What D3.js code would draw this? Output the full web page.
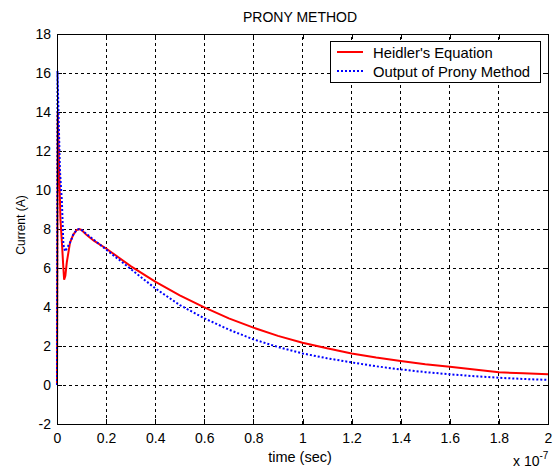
<!DOCTYPE html>
<html>
<head>
<meta charset="utf-8">
<script src="https://cdn.jsdelivr.net/npm/d3@7"></script>
<style>
  body { margin: 0; background: #fff; }
  text { font-family: "Liberation Sans", Arial, sans-serif; fill: #000; }
</style>
</head>
<body>
<div id="chart"></div>
<script>
// time values are in units of 1e-7 s
const heidlerTime = [0, 0.003, 0.008, 0.014, 0.02, 0.025, 0.029, 0.034, 0.04, 0.053, 0.066, 0.08, 0.09, 0.1, 0.12, 0.15, 0.2, 0.25, 0.3, 0.4, 0.5, 0.6, 0.7, 0.8, 0.9, 1.0, 1.1, 1.2, 1.3, 1.4, 1.5, 1.6, 1.7, 1.8, 1.9, 2.0];
const heidlerCurrent = [0, 14.0, 11.5, 8.5, 7.3, 6.2, 5.4, 5.6, 6.3, 7.3, 7.7, 7.95, 8.0, 7.95, 7.7, 7.4, 7.0, 6.55, 6.1, 5.3, 4.6, 3.98, 3.42, 2.94, 2.52, 2.17, 1.88, 1.62, 1.41, 1.23, 1.07, 0.94, 0.79, 0.65, 0.6, 0.55];

const pronyTime = [0, 0.002, 0.006, 0.012, 0.02, 0.026, 0.033, 0.04, 0.053, 0.066, 0.08, 0.09, 0.1, 0.12, 0.15, 0.2, 0.25, 0.3, 0.4, 0.5, 0.6, 0.7, 0.8, 0.9, 1.0, 1.1, 1.2, 1.3, 1.4, 1.5, 1.6, 1.7, 1.8, 1.9, 2.0];
const pronyCurrent = [0, 16.1, 14.0, 11.0, 9.4, 7.2, 6.85, 7.0, 7.3, 7.7, 7.95, 8.0, 7.95, 7.75, 7.45, 6.95, 6.45, 5.95, 4.96, 4.1, 3.42, 2.84, 2.34, 1.95, 1.62, 1.37, 1.16, 0.96, 0.8, 0.66, 0.55, 0.45, 0.37, 0.31, 0.26];

const xTicks = [0, 0.2, 0.4, 0.6, 0.8, 1, 1.2, 1.4, 1.6, 1.8, 2];
const yTicks = [-2, 0, 2, 4, 6, 8, 10, 12, 14, 16, 18];
const seriesNames = ["Heidler's Equation", "Output of Prony Method"];

const width = 553, height = 471;
const marginLeft = 57, marginRight = 5, marginTop = 34, marginBottom = 47;

const svg = d3.select("#chart").append("svg")
    .attr("width", width)
    .attr("height", height);

const x = d3.scaleLinear().domain([0, 2]).range([marginLeft, width - marginRight]);
const y = d3.scaleLinear().domain([-2, 18]).range([height - marginBottom, marginTop]);

// grid
const grid = svg.append("g");
grid.selectAll(".gx")
    .data(xTicks.slice(1, -1))
    .enter().append("line")
    .attr("x1", d => x(d)).attr("x2", d => x(d))
    .attr("y1", y(-2)).attr("y2", y(18))
    .attr("stroke", "#000").attr("stroke-width", 1)
    .attr("stroke-dasharray", "3,3")
    .attr("shape-rendering", "crispEdges");
grid.selectAll(".gy")
    .data(yTicks.slice(1, -1))
    .enter().append("line")
    .attr("x1", x(0)).attr("x2", x(2))
    .attr("y1", d => y(d)).attr("y2", d => y(d))
    .attr("stroke", "#000").attr("stroke-width", 1)
    .attr("stroke-dasharray", "3,3")
    .attr("shape-rendering", "crispEdges");

// axes with inward ticks
const fmt = d => String(d);
const xAxis = d3.axisBottom(x).tickValues(xTicks).tickSizeInner(-5).tickSizeOuter(0).tickPadding(9).tickFormat(fmt);
const yAxis = d3.axisLeft(y).tickValues(yTicks).tickSizeInner(-5).tickSizeOuter(0).tickPadding(6).tickFormat(fmt);

svg.append("g")
    .attr("transform", `translate(0,${height - marginBottom})`)
    .call(xAxis);
svg.append("g")
    .attr("transform", `translate(${marginLeft},0)`)
    .call(yAxis);
svg.append("g")
    .attr("transform", `translate(0,${marginTop})`)
    .call(d3.axisTop(x).tickValues(xTicks).tickSizeInner(-5).tickSizeOuter(0).tickFormat(""));
svg.append("g")
    .attr("transform", `translate(${width - marginRight},0)`)
    .call(d3.axisRight(y).tickValues(yTicks).tickSizeInner(-5).tickSizeOuter(0).tickFormat(""));

svg.selectAll(".domain").remove();
svg.selectAll(".tick line").attr("stroke", "#000").attr("shape-rendering", "crispEdges");
svg.selectAll(".tick text").style("font-size", "14px").style("font-family", "Liberation Sans, Arial, sans-serif").attr("fill", "#000");

// lines
const line = d3.line().x(d => x(d[0])).y(d => y(d[1]));
const heidler = heidlerTime.map((t, i) => [t, heidlerCurrent[i]]);
const prony = pronyTime.map((t, i) => [t, pronyCurrent[i]]);

svg.append("path")
    .datum(heidler)
    .attr("d", line)
    .attr("fill", "none")
    .attr("stroke", "#ff0000")
    .attr("stroke-width", 2);

svg.append("path")
    .datum(prony)
    .attr("d", line)
    .attr("fill", "none")
    .attr("stroke", "#0000ff")
    .attr("stroke-width", 2)
    .attr("stroke-dasharray", "2,2");

// box
svg.append("rect")
    .attr("x", marginLeft).attr("y", marginTop)
    .attr("width", width - marginRight - marginLeft)
    .attr("height", height - marginBottom - marginTop)
    .attr("fill", "none").attr("stroke", "#000")
    .attr("shape-rendering", "crispEdges");

// labels
svg.append("text")
    .attr("x", 300)
    .attr("y", 22)
    .attr("text-anchor", "middle")
    .style("font-size", "14px")
    .text("PRONY METHOD");

svg.append("text")
    .attr("x", 300)
    .attr("y", 462)
    .attr("text-anchor", "middle")
    .style("font-size", "14.5px")
    .text("time (sec)");

svg.append("text")
    .attr("transform", "translate(25,225) rotate(-90)")
    .attr("text-anchor", "middle")
    .style("font-size", "12px")
    .text("Current (A)");

const expo = svg.append("text")
    .attr("x", 513)
    .attr("y", 466)
    .style("font-size", "14px");
expo.append("tspan").text("x 10");
expo.append("tspan").attr("dy", -7).style("font-size", "10px").text("-7");

// legend
const legend = svg.append("g").attr("transform", "translate(330,41)");
legend.append("rect")
    .attr("width", 210).attr("height", 41)
    .attr("fill", "#fff").attr("stroke", "#000")
    .attr("shape-rendering", "crispEdges");
const legendColors = ["#ff0000", "#0000ff"];
const legendDash = [null, "2,2"];
seriesNames.forEach((name, i) => {
    const ly = 11 + i * 19;
    legend.append("line")
        .attr("x1", 7).attr("x2", 33)
        .attr("y1", ly).attr("y2", ly)
        .attr("stroke", legendColors[i])
        .attr("stroke-width", 2)
        .attr("stroke-dasharray", legendDash[i]);
    legend.append("text")
        .attr("x", 43).attr("y", ly + 6)
        .style("font-size", "14.8px")
        .text(name);
});
</script>
</body>
</html>
